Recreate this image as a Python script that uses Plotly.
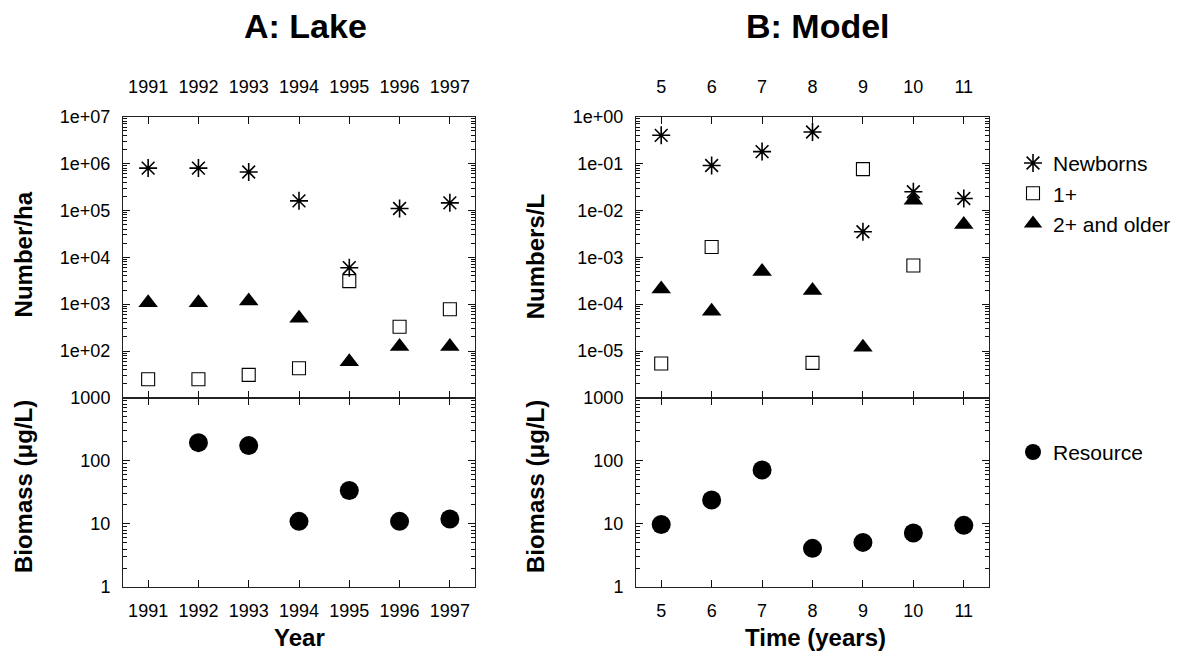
import plotly.graph_objects as go

# ---------------- data ----------------
years = [1991, 1992, 1993, 1994, 1995, 1996, 1997]
lake_newborns = [8.0e5, 8.0e5, 6.6e5, 1.6e5, 6.0e3, 1.1e5, 1.45e5]
lake_one_plus = [25, 25, 31, 43, 3100, 330, 780]
lake_two_plus = [1070, 1070, 1170, 500, 59, 125, 125]
lake_resource = [None, 195, 175, 11, 34, 11, 12]

model_time = [5, 6, 7, 8, 9, 10, 11]
model_newborns = [0.40, 0.091, 0.18, 0.47, 0.0035, 0.025, 0.018]
model_one_plus = [5.4e-6, 1.66e-3, None, 5.6e-6, 0.076, 6.7e-4, None]
model_two_plus = [2.1e-4, 7.1e-5, 5.0e-4, 1.95e-4, 1.2e-5, 0.0165, 5.0e-3]
model_resource = [9.8, 24, 72, 4.1, 5.1, 7.2, 9.5]

lake_count_ticks = [1e2, 1e3, 1e4, 1e5, 1e6, 1e7]
lake_count_labels = ["1e+02", "1e+03", "1e+04", "1e+05", "1e+06", "1e+07"]
model_count_ticks = [1e-5, 1e-4, 1e-3, 1e-2, 1e-1, 1e0]
model_count_labels = ["1e-05", "1e-04", "1e-03", "1e-02", "1e-01", "1e+00"]
biomass_ticks = [1, 10, 100, 1000]
biomass_labels = ["1", "10", "100", "1000"]

series_names = ["Newborns", "1+", "2+ and older"]
resource_name = "Resource"

FONT = "Liberation Sans, Arial, Helvetica, sans-serif"
W, H = 1191, 661


def minor_vals(lo_exp, hi_exp):
    vals = []
    for e in range(lo_exp, hi_exp):
        for m in range(2, 10):
            vals.append(m * 10.0 ** e)
    return vals


fig = go.Figure()

marker_styles = [
    dict(symbol="asterisk-open", size=15, color="black", line=dict(color="black", width=1.6)),
    dict(symbol="square-open", size=13, color="black", line=dict(color="black", width=1.1)),
    dict(symbol="triangle-up", size=17, color="black", line=dict(width=0)),
]

for i, (vals, st) in enumerate(zip([lake_newborns, lake_one_plus, lake_two_plus], marker_styles)):
    fig.add_trace(go.Scatter(x=years, y=vals, mode="markers", marker=st, name=series_names[i],
                             xaxis="x", yaxis="y", legend="legend", showlegend=True))
for i, (vals, st) in enumerate(zip([model_newborns, model_one_plus, model_two_plus], marker_styles)):
    fig.add_trace(go.Scatter(x=model_time, y=vals, mode="markers", marker=st, name=series_names[i],
                             xaxis="x3", yaxis="y3", showlegend=False))

res_style = dict(symbol="circle", size=19, color="black")
fig.add_trace(go.Scatter(x=years, y=lake_resource, mode="markers", marker=res_style,
                         name=resource_name, xaxis="x2", yaxis="y2", legend="legend2"))
fig.add_trace(go.Scatter(x=model_time, y=model_resource, mode="markers", marker=res_style,
                         name=resource_name, xaxis="x4", yaxis="y4", showlegend=False))

left_dom = [123 / W, 475 / W]
right_dom = [636 / W, 989 / W]
top_dom = [1 - 400 / H, 1 - 110 / H]
bot_dom = [1 - 595 / H, 1 - 400 / H]

tickfont = dict(family=FONT, size=18, color="black")
common_axis = dict(showline=True, linecolor="#222", linewidth=1, mirror="ticks", ticks="inside",
                   ticklen=7, tickcolor="#111", showgrid=False, zeroline=False, tickfont=tickfont)


def xaxis(dom, anchor, vals, rng, side, standoff):
    d = dict(common_axis)
    d.update(domain=dom, anchor=anchor, range=rng, tickmode="array", tickvals=vals,
             ticktext=[str(v) for v in vals], side=side, ticklabelstandoff=standoff)
    return d


def yaxis(dom, anchor, vals, labels, rng):
    d = dict(common_axis)
    d.update(domain=dom, anchor=anchor, type="log", range=rng, tickmode="array",
             tickvals=vals, ticktext=labels, ticklabelstandoff=8)
    return d


def minor_axis(base, anchor, rng, minors):
    return dict(overlaying=base, anchor=anchor, type="log", range=rng, tickmode="array",
                tickvals=minors, ticks="inside", ticklen=4, tickcolor="#111", tickwidth=1,
                mirror="ticks", showline=False, showticklabels=False, showgrid=False,
                zeroline=False, side="left")


fig.update_layout(
    width=W, height=H, autosize=False,
    margin=dict(l=0, r=0, t=0, b=0),
    paper_bgcolor="white", plot_bgcolor="white",
    font=dict(family=FONT, color="black"),
    xaxis=xaxis(left_dom, "y", years, [1990.5, 1997.5], "top", 15),
    yaxis=yaxis(top_dom, "x", lake_count_ticks, lake_count_labels, [1, 7]),
    xaxis2=xaxis(left_dom, "y2", years, [1990.5, 1997.5], "bottom", 7),
    yaxis2=yaxis(bot_dom, "x2", biomass_ticks, biomass_labels, [0, 3]),
    xaxis3=xaxis(right_dom, "y3", model_time, [4.5, 11.5], "top", 15),
    yaxis3=yaxis(top_dom, "x3", model_count_ticks, model_count_labels, [-6, 0]),
    xaxis4=xaxis(right_dom, "y4", model_time, [4.5, 11.5], "bottom", 7),
    yaxis4=yaxis(bot_dom, "x4", biomass_ticks, biomass_labels, [0, 3]),
    yaxis5=minor_axis("y", "x", [1, 7], minor_vals(1, 7)),
    yaxis6=minor_axis("y2", "x2", [0, 3], minor_vals(0, 3)),
    yaxis7=minor_axis("y3", "x3", [-6, 0], minor_vals(-6, 0)),
    yaxis8=minor_axis("y4", "x4", [0, 3], minor_vals(0, 3)),
    legend=dict(x=1013 / W, xanchor="left", y=1 - 137 / H, yanchor="top",
                font=dict(family=FONT, size=21, color="black"), bgcolor="rgba(0,0,0,0)",
                tracegroupgap=0),
    legend2=dict(x=1013 / W, xanchor="left", y=1 - 435 / H, yanchor="top",
                 font=dict(family=FONT, size=21, color="black"), bgcolor="rgba(0,0,0,0)"),
    showlegend=True,
)

# invisible traces to attach the minor-tick axes
for ya, xa in [("y5", "x"), ("y6", "x2"), ("y7", "x3"), ("y8", "x4")]:
    fig.add_trace(go.Scatter(x=[None], y=[None], xaxis=xa, yaxis=ya, showlegend=False,
                             hoverinfo="skip", mode="markers"))

ann_font_title = dict(family=FONT, size=34, color="black")
ann_font_axis = dict(family=FONT, size=24, color="black")
annotations = [
    dict(text="<b>A: Lake</b>", x=305 / W, y=1 - 17 / H, font=ann_font_title),
    dict(text="<b>B: Model</b>", x=818 / W, y=1 - 17 / H, font=ann_font_title),
    dict(text="<b>Year</b>", x=299 / W, y=1 - 647 / H, font=ann_font_axis),
    dict(text="<b>Time (years)</b>", x=815 / W, y=1 - 647 / H, font=ann_font_axis),
    dict(text="<b>Number/ha</b>", x=23 / W, y=1 - 252 / H, font=ann_font_axis, textangle=-90),
    dict(text="<b>Biomass (μg/L)</b>", x=23 / W, y=1 - 492 / H, font=ann_font_axis, textangle=-90),
    dict(text="<b>Numbers/L</b>", x=535 / W, y=1 - 255 / H, font=ann_font_axis, textangle=-90),
    dict(text="<b>Biomass (μg/L)</b>", x=535 / W, y=1 - 492 / H, font=ann_font_axis, textangle=-90),
]
for a in annotations:
    a.update(xref="paper", yref="paper", showarrow=False, xanchor="center", yanchor="middle")
fig.update_layout(annotations=annotations)

fig.write_html("out.html")
